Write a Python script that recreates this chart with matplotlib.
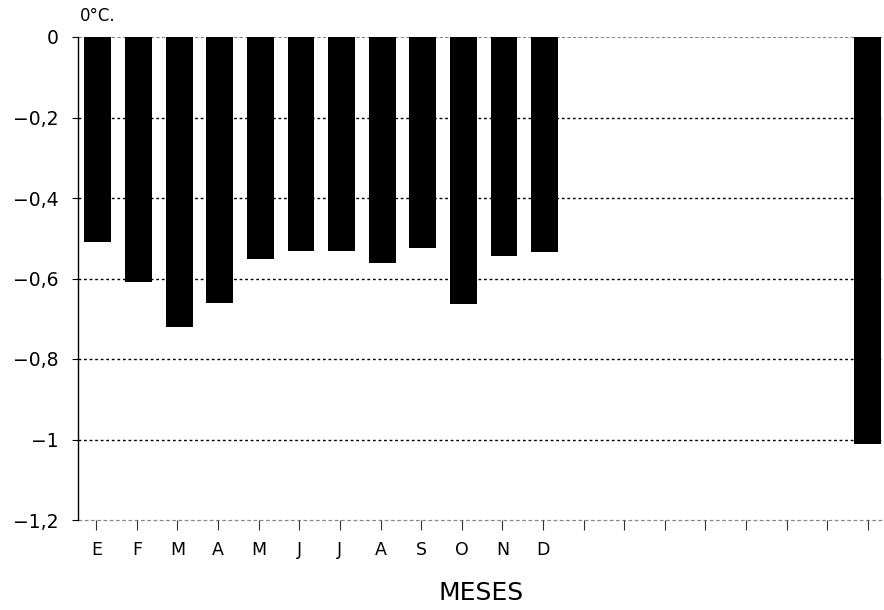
import matplotlib
matplotlib.use("Agg")
import matplotlib.pyplot as plt
import numpy as np

months = ["E", "F", "M", "A", "M", "J", "J", "A", "S", "O", "N", "D"]
month_values = [-0.51, -0.609, -0.72, -0.661, -0.552, -0.532, -0.532, -0.561, -0.524, -0.663, -0.545, -0.535]
annual_value = -1.01
n_slots = 20
yticks = [0, -0.2, -0.4, -0.6, -0.8, -1.0, -1.2]
ytick_labels = ["0", "\u22120,2", "\u22120,4", "\u22120,6", "\u22120,8", "\u22121", "\u22121,2"]

fig = plt.figure(figsize=(8.84, 6.10), dpi=100)
ax = fig.add_axes([78/884, 1 - 520/610, 1 - 78/884, (520 - 37)/610])

x_months = np.arange(1, len(months) + 1)
ax.bar(x_months + 0.04, month_values, width=0.66, color="black", zorder=3)
ax.bar([n_slots], [annual_value], width=0.66, color="black", zorder=3)

for y in yticks[1:-1]:
    ax.axhline(y, color="black", linestyle=(0, (2, 2)), linewidth=1.0, zorder=1)
ax.axhline(0, color="#888888", linestyle=(0, (3, 2)), linewidth=0.8, zorder=1)
ax.axhline(-1.2, color="#888888", linestyle=(0, (3, 2)), linewidth=0.9, zorder=1, clip_on=False)

ax.set_ylim(-1.2, 0)
ax.set_xlim(0.55, 20.4)
ax.set_yticks(yticks)
ax.set_yticklabels(ytick_labels, fontsize=13.5)
ax.set_xticks(np.arange(1, n_slots + 1))
ax.set_xticklabels(months + [""] * (n_slots - len(months)), fontsize=12.5)

for s in ["top", "right", "bottom"]:
    ax.spines[s].set_visible(False)
ax.spines["left"].set_linewidth(1.0)

ax.tick_params(axis="y", direction="out", length=4, width=0.8, pad=10)
ax.tick_params(axis="x", direction="out", length=7, width=0.8, pad=8, color="#333333")

fig.text(80/884, 1 - 16/610, "0\u00b0C.", fontsize=12, ha="left", va="center")
fig.text(481/884, 1 - 593/610, "MESES", fontsize=18, ha="center", va="center")

fig.savefig("out.png", dpi=100)
